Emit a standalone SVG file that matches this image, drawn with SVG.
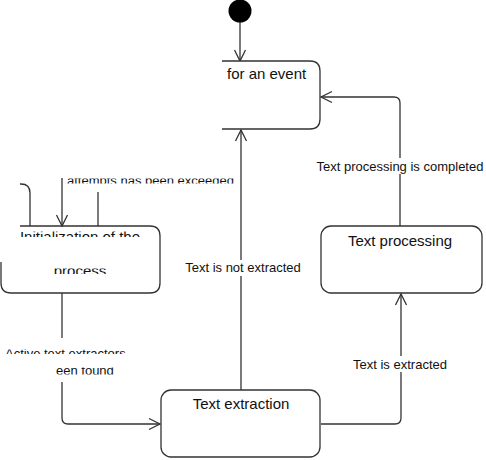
<svg xmlns="http://www.w3.org/2000/svg" width="486" height="460" viewBox="0 0 486 460">
<style>
.ln{fill:none;stroke:#333;stroke-width:1.3}
.box{fill:#fff;stroke:#333;stroke-width:1.3}
.t{font-family:"Liberation Sans",Arial,sans-serif;font-size:15px;fill:#111}
.lb{font-family:"Liberation Sans",Arial,sans-serif;font-size:13px;fill:#111}
.bg{fill:#fff}
</style>
<defs>
<marker id="ah" markerUnits="userSpaceOnUse" markerWidth="14" markerHeight="14" viewBox="-12 -7 14 14" refX="0" refY="0" orient="auto">
<path d="M -11 -5.5 L 0 0 L -11 5.5" fill="none" stroke="#333" stroke-width="1.3"/>
</marker>
<clipPath id="cAtt"><rect x="0" y="178.5" width="486" height="5"/></clipPath>
<clipPath id="cInit"><rect x="0" y="231.5" width="486" height="5.5"/></clipPath>
<clipPath id="cProc"><rect x="0" y="268.5" width="486" height="5.5"/></clipPath>
<clipPath id="cAct"><rect x="0" y="349.5" width="486" height="4.5"/></clipPath>
<clipPath id="cFound"><rect x="0" y="367.5" width="486" height="7"/></clipPath>
</defs>

<g id="connectors">
<line class="ln" x1="240" y1="22" x2="240" y2="61" marker-end="url(#ah)"/>
<path class="ln" d="M 400 226 V 103 Q 400 97 394 97 H 321" marker-end="url(#ah)"/>
<path class="ln" d="M 321 424 H 395 Q 401 424 401 418 V 294" marker-end="url(#ah)"/>
<line class="ln" x1="241" y1="390" x2="241" y2="130" marker-end="url(#ah)"/>
<path class="ln" d="M 62 293 V 338"/>
<path class="ln" d="M 62 382 V 418 Q 62 424 68 424 H 160" marker-end="url(#ah)"/>
<path class="ln" d="M 30 226 V 193 Q 30 184 21 184 H 20"/>
<line class="ln" x1="62" y1="178" x2="62" y2="226" marker-end="url(#ah)"/>
<line class="ln" x1="98" y1="192" x2="98" y2="226"/>

<rect class="bg" x="314" y="158" width="172" height="16"/>
<text class="lb" x="400" y="171" text-anchor="middle">Text processing is completed</text>
<rect class="bg" x="184" y="260" width="120" height="16"/>
<text class="lb" x="243" y="272" text-anchor="middle">Text is not extracted</text>
<rect class="bg" x="351" y="356" width="99" height="16"/>
<text class="lb" x="400" y="369" text-anchor="middle">Text is extracted</text>
<text class="lb" x="67" y="185" clip-path="url(#cAtt)">attempts has been exceeded</text>
<text class="lb" x="5" y="358" clip-path="url(#cAct)">Active text extractors</text>
<text class="lb" x="56" y="375" clip-path="url(#cFound)">een found</text>
</g>

<g id="start">
<circle cx="240" cy="11" r="11.5" fill="#000"/>
</g>

<g id="waiting">
<path class="box" d="M 222 61 H 310 Q 320 61 320 71 V 119 Q 320 129 310 129 H 222"/>
<text class="t" x="227" y="79">for an event</text>
</g>

<g id="init">
<path class="ln" d="M 20 226 H 150 Q 160 226 160 236 V 283 Q 160 293 150 293 H 11 Q 1 293 1 283 V 262"/>
<text class="t" x="80" y="242" text-anchor="middle" clip-path="url(#cInit)">Initialization of the</text>
<text class="t" x="80" y="276" text-anchor="middle" clip-path="url(#cProc)">process</text>
</g>

<g id="processing">
<rect class="box" x="321" y="226" width="161" height="67" rx="10"/>
<text class="t" x="400" y="246" text-anchor="middle">Text processing</text>
</g>

<g id="extraction">
<rect class="box" x="161" y="390" width="159" height="67" rx="10"/>
<text class="t" x="241" y="409" text-anchor="middle">Text extraction</text>
</g>
</svg>
